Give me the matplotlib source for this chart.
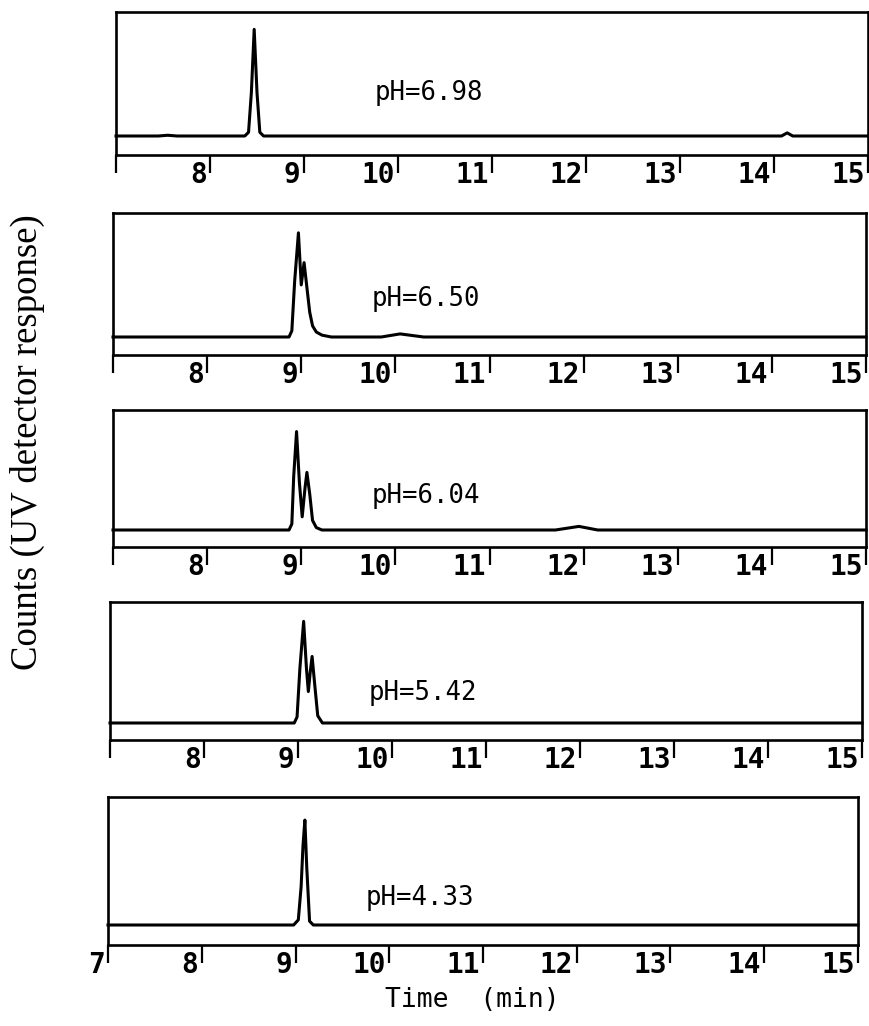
import matplotlib.pyplot as plt

plt.rcParams["font.family"] = "DejaVu Sans Mono"

# electropherograms at five buffer pH values, response scaled so the frame top = 1
ph_labels = ["pH=6.98", "pH=6.50", "pH=6.04", "pH=5.42", "pH=4.33"]

time_698 = [7.0, 7.45, 7.55, 7.65, 8.37, 8.41, 8.44, 8.47, 8.50, 8.53, 8.57,
            14.08, 14.14, 14.2, 15.0]
resp_698 = [0.0, 0.0, 0.006, 0.0, 0.0, 0.03, 0.35, 0.86, 0.35, 0.03, 0.0,
            0.0, 0.025, 0.0, 0.0]

time_650 = [7.0, 8.87, 8.90, 8.93, 8.97, 9.00, 9.03, 9.06, 9.09, 9.12, 9.16,
            9.22, 9.32, 9.85, 10.05, 10.3, 15.0]
resp_650 = [0.0, 0.0, 0.05, 0.45, 0.84, 0.42, 0.60, 0.40, 0.2, 0.09, 0.04,
            0.015, 0.0, 0.0, 0.025, 0.0, 0.0]

time_604 = [7.0, 8.87, 8.90, 8.92, 8.95, 8.98, 9.01, 9.04, 9.06, 9.09, 9.12,
            9.16, 9.22, 11.7, 11.95, 12.15, 15.0]
resp_604 = [0.0, 0.0, 0.05, 0.45, 0.82, 0.4, 0.11, 0.35, 0.48, 0.3, 0.08,
            0.02, 0.0, 0.0, 0.03, 0.0, 0.0]

time_542 = [7.0, 8.96, 8.99, 9.02, 9.06, 9.09, 9.11, 9.13, 9.15, 9.18, 9.21,
            9.26, 15.0]
resp_542 = [0.0, 0.0, 0.05, 0.45, 0.84, 0.45, 0.26, 0.42, 0.55, 0.3, 0.06,
            0.0, 0.0]

time_433 = [7.0, 8.98, 9.03, 9.06, 9.08, 9.10, 9.12, 9.15, 9.19, 15.0]
resp_433 = [0.0, 0.0, 0.04, 0.3, 0.62, 0.82, 0.45, 0.03, 0.0, 0.0]

traces = [(time_698, resp_698), (time_650, resp_650), (time_604, resp_604),
          (time_542, resp_542), (time_433, resp_433)]

x_ticks = [7, 8, 9, 10, 11, 12, 13, 14, 15]

# frame edges in pixels: left, right, top, trace baseline, time axis
frames = [
    (116, 868, 12, 136, 155),
    (113, 866, 213, 337, 355),
    (113, 866, 410, 530, 547),
    (110, 862, 602, 723, 740),
    (108, 858, 797, 925, 945),
]
label_y = [0.35, 0.31, 0.28, 0.25, 0.21]

W, H = 870, 1026
fig = plt.figure(figsize=(W / 100, H / 100), dpi=100)

for i, ((t, r), (left, right, top, base, axis)) in enumerate(zip(traces, frames)):
    ax = fig.add_axes([left / W, 1 - axis / H, (right - left) / W, (axis - top) / H])
    gap = (axis - base) / (base - top)
    ax.set_xlim(7, 15)
    ax.set_ylim(-gap, 1)

    ax.plot(t, r, color="black", lw=2.2, clip_on=False, solid_joinstyle="round")

    for side in ["top", "bottom", "left", "right"]:
        ax.spines[side].set_linewidth(1.9)
    ax.set_yticks([])
    ax.set_xticks(x_ticks)
    ax.tick_params(axis="x", direction="out", length=13, width=1.6,
                   labelbottom=False)

    shown = x_ticks if i == len(traces) - 1 else x_ticks[1:]
    for tick in shown:
        ax.annotate(str(tick), xy=(tick, 0), xycoords=("data", "axes fraction"),
                    xytext=(-2.5, -4.5), textcoords="offset points",
                    ha="right", va="top", fontsize=20, fontweight="bold")

    ax.text(9.75, label_y[i], ph_labels[i], fontsize=18.5, ha="left", va="center")

fig.text(472 / W, 1 - 1000 / H, "Time  (min)", fontsize=19, ha="center", va="center")
fig.text(27 / W, 1 - 442 / H, "Counts (UV detector response)", rotation=90,
         family="Liberation Serif", fontsize=26.5, ha="center", va="center")

fig.savefig("out.png", dpi=100)
